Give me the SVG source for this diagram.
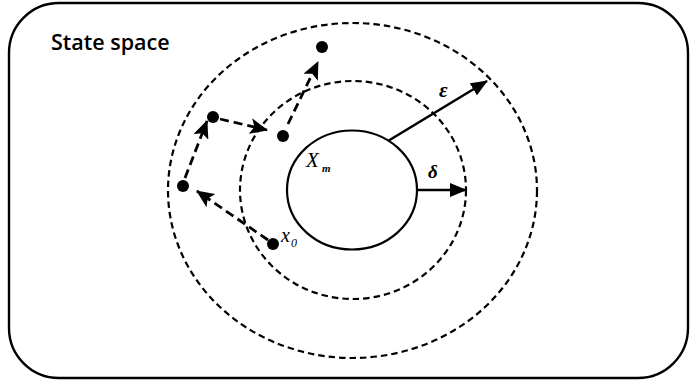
<svg xmlns="http://www.w3.org/2000/svg" width="690" height="382" viewBox="0 0 690 382">
<defs>
<marker id="ah" markerUnits="userSpaceOnUse" markerWidth="18" markerHeight="16" viewBox="0 0 18 16" refX="17" refY="8" orient="auto">
<path d="M0,0 L18,8 L0,16 L4,8 Z" fill="#000"/>
</marker>
<marker id="ah2" markerUnits="userSpaceOnUse" markerWidth="17" markerHeight="14" viewBox="0 0 17 14" refX="16" refY="7" orient="auto">
<path d="M0,0 L17,7 L0,14 Z" fill="#000"/>
</marker>
<style>
.frame{fill:#fff;stroke:#000;stroke-width:2.4}
.dash{fill:none;stroke:#000;stroke-width:2.2;stroke-dasharray:6.5 4}
.solid{fill:none;stroke:#000;stroke-width:2.2}
.dot{fill:#000}
.conn{fill:none;stroke:#000;stroke-width:2.8;stroke-dasharray:9 5}
.rad{fill:none;stroke:#000;stroke-width:2.6}
.title{font-family:"Open Sans","Noto Sans",sans-serif;font-weight:600;font-size:21.5px;fill:#000}
.math{font-family:"Liberation Serif",serif;font-style:italic;fill:#000}
</style>
</defs>
<rect class="frame" x="9" y="3" width="679" height="375" rx="50" ry="50"/>
<text class="title" x="51" y="50">State space</text>
<g id="outer-region"><ellipse class="dash" cx="352.5" cy="190.5" rx="184.5" ry="167.5"/></g>
<g id="inner-region"><ellipse class="dash" cx="353" cy="190" rx="113" ry="109"/></g>
<g id="Xm"><ellipse class="solid" cx="352" cy="190" rx="65" ry="59.5"/>
<text class="math" x="306" y="167" font-size="21">X</text><text class="math" x="322" y="172" font-size="11" font-weight="bold">m</text></g>
<g id="x0"><circle class="dot" cx="273" cy="244" r="6"/>
<text class="math" x="281" y="242" font-size="20">x</text><text class="math" x="291" y="247" font-size="12" font-style="normal">0</text></g>
<g id="p1"><circle class="dot" cx="183" cy="186" r="6"/></g>
<g id="p2"><circle class="dot" cx="213" cy="117" r="6"/></g>
<g id="p3"><circle class="dot" cx="283" cy="136" r="6"/></g>
<g id="p4"><circle class="dot" cx="322" cy="47" r="6"/></g>
<g id="connectors">
<line class="conn" x1="268" y1="240" x2="197" y2="191" marker-end="url(#ah)"/>
<line class="conn" x1="185" y1="178" x2="207" y2="121" marker-end="url(#ah)"/>
<line class="conn" x1="220" y1="119" x2="267" y2="130" marker-end="url(#ah)"/>
<line class="conn" x1="288" y1="124" x2="318" y2="62" marker-end="url(#ah)"/>
<line class="rad" x1="388" y1="141" x2="487" y2="81" marker-end="url(#ah2)"/>
<line class="rad" x1="417" y1="190" x2="466" y2="190" marker-end="url(#ah2)"/>
</g>
<text class="math" x="439" y="97" font-size="21" font-weight="bold">ε</text>
<text class="math" x="428" y="178" font-size="19" font-weight="bold">δ</text>
</svg>
